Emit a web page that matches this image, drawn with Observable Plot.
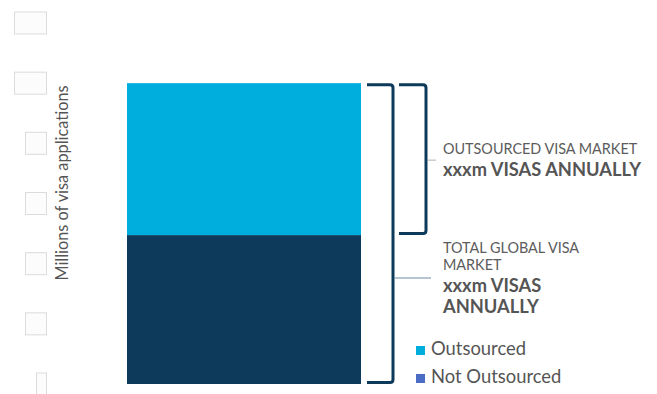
<!DOCTYPE html>
<html><head><meta charset="utf-8">
<script src="https://cdn.jsdelivr.net/npm/d3@7"></script>
<script src="https://cdn.jsdelivr.net/npm/@observablehq/plot@0.6"></script>
<style>body{margin:0;background:#fff;} svg{display:block}</style>
</head><body><div id="chart"></div>
<script>
const categories = ["Visa applications"];
const segments = ["Not Outsourced", "Outsourced"];
const segmentValues = [49.5, 50.5];
const segmentColors = ["#0d3a5b", "#00aede"];
const tickValues = [0, 20, 40, 60, 80, 100, 120];
const tickLabels = ["0", "20", "40", "60", "80", "100", "120"];
const yLabel = "Millions of visa applications";
const legendLabels = ["Outsourced", "Not Outsourced"];
const legendColors = ["#00aede", "#4a6cc4"];
const outsourcedLines = ["OUTSOURCED VISA MARKET", "xxxm VISAS ANNUALLY"];
const totalLines = ["TOTAL GLOBAL VISA", "MARKET", "xxxm VISAS", "ANNUALLY"];

const data = segments.map((s, i) => ({category: categories[0], segment: s, value: segmentValues[i]}));
const total = d3.sum(segmentValues);

function decorations(index, scales, values, dimensions) {
  const y = scales.y;
  const g = d3.create("svg:g").attr("text-anchor", "start");
  const navy = "#0d3a5b", grey = "#555";
  // tick label placeholder boxes (rendered as empty boxes in reference)
  tickValues.forEach((v, i) => {
    const w = tickLabels[i].length * 11 - 1;
    g.append("rect").attr("x", 46.5 - w).attr("y", y(v) - 11).attr("width", w).attr("height", 22)
      .attr("fill", "#fcfcfc").attr("stroke", "#dcdcdc").attr("stroke-width", 1);
  });
  // y label
  g.append("text").attr("transform", "translate(68,183) rotate(-90)")
    .attr("text-anchor", "middle").attr("fill", grey).attr("font-size", 16.3).text(yLabel);
  const barRight = dimensions.width - dimensions.marginRight;
  const top = y(total) + 1.5, bottom = y(0) - 1.5, split = y(segmentValues[0]) - 1.5;
  const bracket = (x0, x1, t, b) => `M${x0},${t}H${x1 - 3}Q${x1},${t} ${x1},${t + 3}V${b - 3}Q${x1},${b} ${x1 - 3},${b}H${x0}`;
  g.append("path").attr("d", bracket(barRight + 6, barRight + 32, top, bottom))
    .attr("fill", "none").attr("stroke", navy).attr("stroke-width", 3);
  g.append("path").attr("d", bracket(barRight + 38, barRight + 65, top, split))
    .attr("fill", "none").attr("stroke", navy).attr("stroke-width", 3);
  // connectors
  const midIn = (top + split) / 2 + 1;
  g.append("line").attr("x1", barRight + 67).attr("x2", barRight + 75).attr("y1", midIn).attr("y2", midIn)
    .attr("stroke", "#b0b0b0").attr("stroke-width", 1);
  g.append("line").attr("x1", barRight + 33).attr("x2", barRight + 70).attr("y1", 278).attr("y2", 278)
    .attr("stroke", "#6d8aa6").attr("stroke-width", 1);
  const tx = 443, light = "#5c5c5c";
  g.append("text").attr("x", tx).attr("y", 154).attr("fill", light).attr("font-size", 14.4).text(outsourcedLines[0]);
  g.append("text").attr("x", tx).attr("y", 176).attr("fill", grey).attr("font-size", 18.3).attr("font-weight", "bold").text(outsourcedLines[1]);
  g.append("text").attr("x", tx).attr("y", 253).attr("fill", light).attr("font-size", 14.4).text(totalLines[0]);
  g.append("text").attr("x", tx).attr("y", 270).attr("fill", light).attr("font-size", 14.4).text(totalLines[1]);
  g.append("text").attr("x", tx).attr("y", 292).attr("fill", grey).attr("font-size", 18.3).attr("font-weight", "bold").text(totalLines[2]);
  g.append("text").attr("x", tx).attr("y", 313).attr("fill", grey).attr("font-size", 18.3).attr("font-weight", "bold").text(totalLines[3]);
  // legend
  legendLabels.forEach((l, i) => {
    const ly = 355 + i * 28;
    g.append("rect").attr("x", 416).attr("y", ly - 9).attr("width", 9).attr("height", 9).attr("fill", legendColors[i]);
    g.append("text").attr("x", 431).attr("y", ly).attr("fill", grey).attr("font-size", 18.4).text(l);
  });
  return g.node();
}

const chart = Plot.plot({
  width: 657, height: 394,
  marginLeft: 127, marginRight: 296, marginTop: 23, marginBottom: 10,
  x: {domain: categories, padding: 0, axis: null},
  y: {domain: [0, 120], axis: null},
  color: {domain: segments, range: segmentColors},
  style: {fontFamily: "Lato, sans-serif", background: "#fff", overflow: "visible"},
  marks: [
    Plot.barY(data, {x: "category", y: "value", fill: "segment", order: null}),
    decorations
  ]
});
document.getElementById("chart").append(chart);
</script>
</body></html>
